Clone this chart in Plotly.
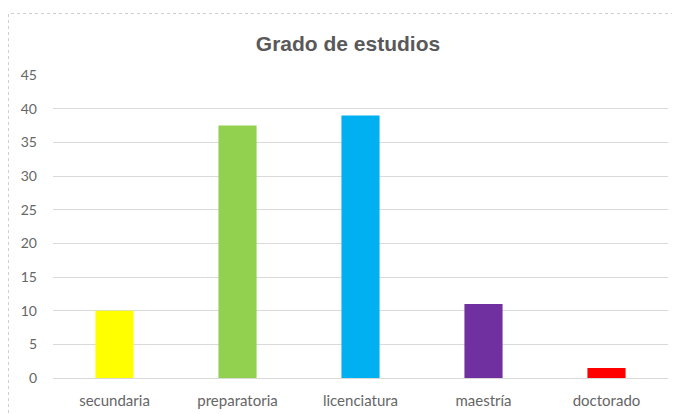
import plotly.graph_objects as go

categories = ["secundaria", "preparatoria", "licenciatura", "maestría", "doctorado"]
values = [10, 37.5, 39, 11, 1.5]
colors = ["#FFFF00", "#92D050", "#00B0F0", "#7030A0", "#FF0000"]
y_ticks = [0, 5, 10, 15, 20, 25, 30, 35, 40, 45]

# page body has an 8px margin; figure coords = window coords - 8
OFF = 8
W, H = 680, 414
L = 53 - OFF
T = 75 - OFF
R = W - (668 - OFF)
B = H - (378 - OFF)
pw = W - L - R
ph = H - T - B

fig = go.Figure(go.Bar(x=categories, y=values, marker=dict(color=colors, line=dict(width=0)),
                       hoverinfo="skip"))

def px_x(p):
    return (p - OFF - L) / pw

def px_y(p):
    return (H - B - (p - OFF)) / ph

fig.add_shape(type="rect", xref="paper", yref="paper",
              x0=px_x(8.5), x1=px_x(677), y0=px_y(440), y1=px_y(13.5),
              line=dict(color="#D0D0D0", width=1, dash="dot"), layer="below")

fig.update_layout(
    width=W, height=H,
    margin=dict(l=L, r=R, t=T, b=B),
    paper_bgcolor="white", plot_bgcolor="white",
    title=dict(text="<b>Grado de estudios</b>", x=0.5, xanchor="center",
               y=1 - (44 - OFF) / H, yanchor="middle",
               font=dict(family="Liberation Sans, Arial", size=21, color="#595959")),
    bargap=0.69,
    showlegend=False,
    font=dict(family="Lato, Open Sans, sans-serif", size=14, color="#666666"),
    xaxis=dict(showgrid=False, showline=False, ticks="", zeroline=False,
               tickfont=dict(size=15, color="#666666"), ticklabelstandoff=12),
    yaxis=dict(range=[0, 45], tickvals=y_ticks, showgrid=True, gridcolor="#D9D9D9",
               gridwidth=1, zeroline=True, zerolinecolor="#D9D9D9", zerolinewidth=1,
               showline=False, ticks="", tickfont=dict(size=14, color="#666666"),
               ticklabelstandoff=15),
)

fig.write_html("out.html")
